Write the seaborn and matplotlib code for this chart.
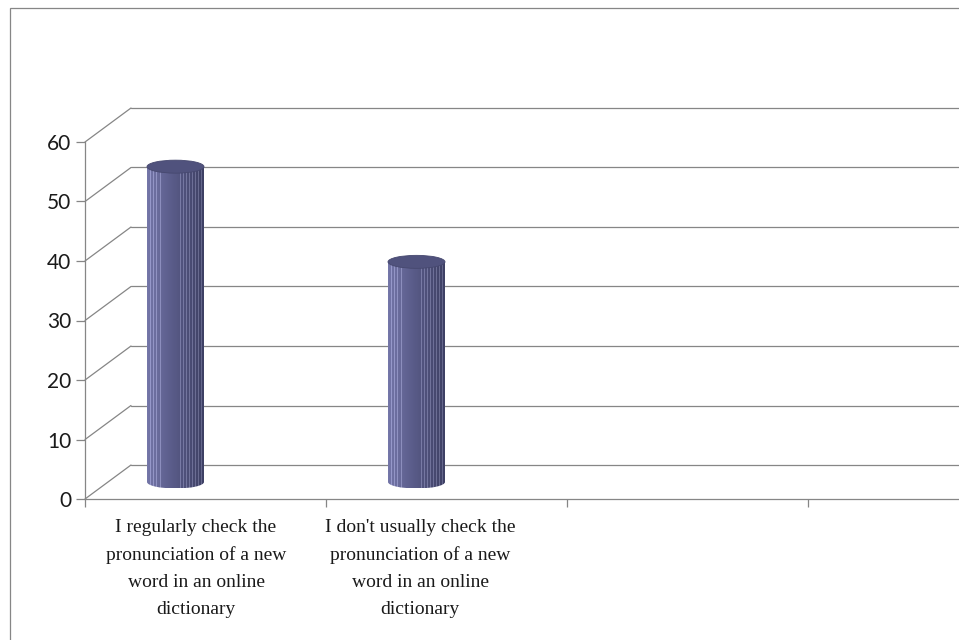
import numpy as np
import pandas as pd
import matplotlib
matplotlib.use("Agg")
import matplotlib.pyplot as plt
import seaborn as sns
from matplotlib.patches import Ellipse, Rectangle

# ---------------- data ----------------
categories = [
    "I regularly check the\npronunciation of a new\nword in an online\ndictionary",
    "I don't usually check the\npronunciation of a new\nword in an online\ndictionary",
    "",
    " ",
]
values = [53, 37, np.nan, np.nan]
yticks = [0, 10, 20, 30, 40, 50, 60]

# ---------------- style ----------------
sns.set_style("white")
plt.rcParams["font.family"] = ["Lato", "DejaVu Sans"]
GRAY = "#868686"

W, H = 959, 640
fig = plt.figure(figsize=(W / 100, H / 100), dpi=100)
fig.patch.set_facecolor("white")
fig.patches.append(Rectangle((10 / W, -0.1), 1.2, 1 - 8 / H + 0.1,
                             transform=fig.transFigure, fill=False,
                             edgecolor=GRAY, lw=0.9))

# front plane geometry (pixels)
X0, SLOT = 85, 241
Y0, Y1 = 499, 142
ax = fig.add_axes([X0 / W, (H - Y0) / H, 4 * SLOT / W, (Y0 - Y1) / H])
ax.set_facecolor("none")

UY = (Y0 - Y1) / 60.0          # px per value unit
DX = 46 / SLOT                 # depth offset (category units)
DY = 34 / UY                   # depth offset (value units)
BAR_W = 57 / SLOT
SHIFT = -30 / SLOT
ELL_H = 13 / UY

df = pd.DataFrame({"cat": categories, "val": values})
sns.barplot(data=df, x="cat", y="val", order=categories, ax=ax,
            color="#5b5d8a", width=BAR_W, saturation=1, edgecolor="none",
            zorder=3)

# back wall gridlines + side-wall diagonals
for v in yticks:
    ax.plot([-0.5, -0.5 + DX], [v, v + DY], color=GRAY, lw=0.9,
            clip_on=False, zorder=1)
    ax.plot([-0.5 + DX, 4.5], [v + DY, v + DY], color=GRAY, lw=0.9,
            clip_on=False, zorder=1)

# cylinder shading
def cyl_colors(n):
    t = np.linspace(0, 1, n)
    c0 = np.array([116, 118, 168])
    c1 = np.array([92, 94, 140])
    c2 = np.array([62, 64, 100])
    cols = np.where(t[:, None] < 0.4,
                    c0 + (c1 - c0) * (t[:, None] / 0.4),
                    c1 + (c2 - c1) * ((t[:, None] - 0.4) / 0.6))
    for k in range(n):
        if (t[k] > 0.55 and k % 3 == 0) or k in (3, 6, 9, 13):
            cols[k] = np.minimum(cols[k] + 38, 255)
    return (cols / 255.0)[None, :, :]

bars = [p for p in ax.patches]
for p in bars:
    h = p.get_height()
    if not np.isfinite(h) or h == 0:
        continue
    p.set_x(p.get_x() + SHIFT)
    p.set_y(DY / 2)
    x0 = p.get_x()
    w = p.get_width()
    cx = x0 + w / 2
    base = DY / 2
    top = base + h
    img = cyl_colors(57)
    im = ax.imshow(img, extent=[x0, x0 + w, base, top], aspect="auto",
                   interpolation="nearest", zorder=4)
    im.set_clip_path(p)
    bottom = Ellipse((cx, base), w, ELL_H, facecolor="none",
                     edgecolor="none", zorder=4)
    ax.add_patch(bottom)
    im2 = ax.imshow(img, extent=[x0, x0 + w, base - ELL_H / 2, base],
                    aspect="auto", interpolation="nearest", zorder=4)
    im2.set_clip_path(bottom)
    ax.add_patch(Ellipse((cx, top), w, ELL_H,
                         facecolor="#50527d", edgecolor="#46486f", lw=0.6,
                         zorder=5))

ax.set_xlim(-0.5, 3.5)
ax.set_ylim(0, 60)

# axes / ticks
for s in ["top", "right"]:
    ax.spines[s].set_visible(False)
for s in ["left", "bottom"]:
    ax.spines[s].set_color(GRAY)
    ax.spines[s].set_linewidth(0.9)
ax.spines["bottom"].set_clip_on(False)

ax.set_yticks(yticks)
ax.set_yticklabels([str(v) for v in yticks], fontsize=15, color="#1a1a1a")
ax.tick_params(axis="y", left=True, length=6.5, width=0.9, color=GRAY, pad=3.5)
ax.set_xticks([])
ax.set_xticks([-0.5, 0.5, 1.5, 2.5], minor=True)
ax.tick_params(axis="x", which="minor", bottom=True, length=5.8, width=0.9,
               color=GRAY, direction="out")
ax.set_xlabel("")
ax.set_ylabel("")

label_shift_px = [-9.5, -26.5]
for i, lab in enumerate(categories[:2]):
    ax.text(i + label_shift_px[i] / SLOT, -(519 - Y0) / UY, lab,
            ha="center", va="top", fontsize=14, family="Liberation Serif",
            linespacing=1.76, color="#1a1a1a", clip_on=False)

fig.savefig("out.png", dpi=100, facecolor="white")
